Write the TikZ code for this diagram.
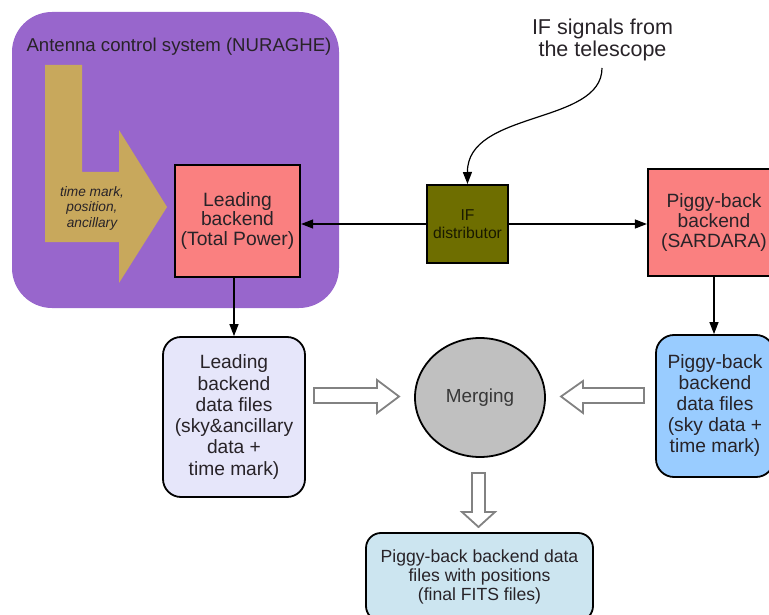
\documentclass[tikz,border=0pt]{standalone}
\usepackage{fontspec}
\setmainfont{Liberation Sans}
\usetikzlibrary{arrows.meta,shapes.geometric}
\definecolor{acspurple}{RGB}{152,102,204}
\definecolor{acstan}{RGB}{200,168,92}
\definecolor{salmonbox}{RGB}{250,128,128}
\definecolor{olivebox}{RGB}{110,110,0}
\definecolor{lavbox}{RGB}{230,230,250}
\definecolor{merggray}{RGB}{192,192,192}
\definecolor{pbfiles}{RGB}{153,204,255}
\definecolor{finalbox}{RGB}{204,229,240}
\definecolor{hollowgray}{RGB}{130,130,130}
\definecolor{txt}{RGB}{40,35,40}
\begin{document}
\begin{tikzpicture}[x=1pt,y=-1pt,
 backendbox/.style={draw=black,line width=2.2pt,fill=salmonbox,align=center,inner sep=0pt,text=txt},
 filebox/.style={draw=black,line width=1.8pt,rounded corners=18pt,align=center,inner sep=0pt,text=txt},
 conn/.style={line width=1.2pt,-{Triangle[length=12pt,width=9pt]}},
 hollow/.style={draw=hollowgray,line width=1.8pt,fill=white,line join=miter}
]
\useasboundingbox (0,0) rectangle (769,615);
\clip (0,0) rectangle (769,615);

% antenna control system
\node[fill=acspurple,rounded corners=40pt,minimum width=327pt,minimum height=296pt,inner sep=0pt] (acs) at (175.5,160) {};
\node[text=txt,font=\fontsize{18.6}{20}\selectfont] (acstitle) at (179,47) {Antenna control system (NURAGHE)};
\fill[acstan] (45,65) -- (82,65) -- (82,172) -- (119,172) -- (119,130) -- (167,207) -- (119,283) -- (119,242) -- (45,242) -- cycle;
\node[text=txt,align=center,font=\fontsize{13.7}{15.5}\selectfont\itshape] (acslabel) at (92,208) {time mark,\\position,\\ancillary};

% backends
\node[backendbox,minimum width=125pt,minimum height=112pt,font=\fontsize{19.3}{19.3}\selectfont] (lead) at (237.5,221) {Leading\\backend\\(Total Power)};
\node[draw=black,line width=2pt,fill=olivebox,minimum width=81pt,minimum height=78pt,inner sep=0pt,align=center,text={rgb,255:red,25;green,25;blue,0},font=\fontsize{15.7}{18}\selectfont] (ifd) at (467.5,224) {IF\\distributor};
\node[backendbox,minimum width=132pt,minimum height=107pt,font=\fontsize{19.2}{20}\selectfont] (pb) at (714,222.5) {Piggy-back\\backend\\(SARDARA)};

\node[text=txt,align=center,font=\fontsize{21.5}{22.5}\selectfont] (ifsig) at (602.5,40) {IF signals from\\the telescope};
\coordinate (ifsrc) at (602,68);

% files
\node[filebox,fill=lavbox,minimum width=142pt,minimum height=160pt,font=\fontsize{19.2}{21.3}\selectfont] (lf) at (234,417) {Leading\\backend\\data files\\(sky\&ancillary\\data +\\time mark)};
\node[ellipse,draw=black,line width=1.8pt,fill=merggray,minimum width=130pt,minimum height=119pt,inner sep=0pt,text={rgb,255:red,55;green,55;blue,55},font=\fontsize{18.9}{20}\selectfont] (merge) at (480,397.5) {Merging};
\node[filebox,fill=pbfiles,minimum width=118pt,minimum height=142pt,font=\fontsize{19.2}{21}\selectfont] (pf) at (715,406) {Piggy-back\\backend\\data files\\(sky data +\\time mark)};
\node[filebox,fill=finalbox,rounded corners=15pt,minimum width=227pt,minimum height=88pt,font=\fontsize{17.6}{19}\selectfont] (final) at (479.5,577) {Piggy-back backend data\\files with positions\\(final FITS files)};

% connectors
\draw[conn] (ifsrc) .. controls (602,125) and (467,110) .. (ifd.north);
\draw[conn] (ifd.west) -- (ifd.west -| lead.east);
\draw[conn] (ifd.east) -- (ifd.east -| pb.west);
\draw[conn] (lf.north |- lead.south) -- (lf.north);
\draw[conn] (pb.south) -- (pb.south |- pf.north);

% hollow block arrows
\draw[hollow] (314,388) -- (377,388) -- (377,380) -- (399,396.5) -- (377,413) -- (377,403) -- (314,403) -- cycle;
\draw[hollow] (644,388) -- (583,388) -- (583,381) -- (561,396.5) -- (583,413) -- (583,403) -- (644,403) -- cycle;
\draw[hollow] (472,473) -- (485,473) -- (485,512) -- (495,512) -- (478.5,527) -- (462,512) -- (472,512) -- cycle;
\end{tikzpicture}
\end{document}
